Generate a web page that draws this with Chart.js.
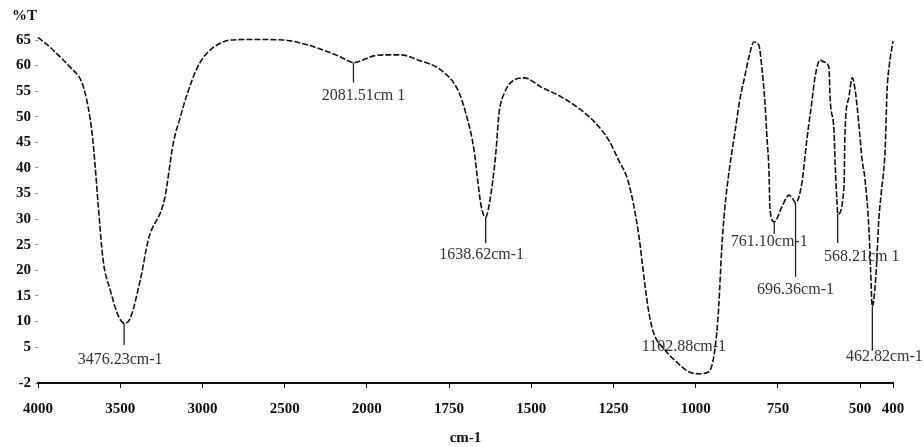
<!DOCTYPE html>
<html>
<head>
<meta charset="utf-8">
<script src="https://cdn.jsdelivr.net/npm/chart.js@4/dist/chart.umd.min.js"></script>
<style>
  html, body { margin: 0; padding: 0; background: #ffffff; }
  #wrap { width: 924px; height: 447px; position: relative; }
</style>
</head>
<body>
<div id="wrap"><canvas id="c" width="924" height="447"></canvas></div>
<script>
// ---- data ----
const wavenumbers = [4000,3927,3866,3805,3732,3695,3671,3652,3634,3604,3561,3510,3476,3451,3378,3329,3230,3177,3134,3091,3030,2970,2890,2829,2700,2506,2402,2262,2159,2082,1979,1948,1896,1845,1774,1723,1699,1674,1662,1652,1639,1631,1613,1607,1598,1582,1552,1521,1470,1409,1348,1308,1265,1235,1204,1174,1155,1143,1128,1094,1058,1021,990,960,945,936,930,921,912,896,881,866,851,838,823,808,799,790,784,777,774,761,738,723,716,705,696,677,662,646,637,622,610,595,591,579,576,570,568,549,546,534,524,515,503,494,485,473,468,463,452,443,436,424,418,412,400];
const transmittance = [65.5,63.6,61.7,59.7,56.6,51.9,46.8,40.2,32.8,22.0,16.2,11.0,9.7,10.0,18.1,26.0,34.0,44.9,50.0,54.6,59.7,62.5,64.4,65.0,65.1,65.0,64.4,63.0,61.7,60.6,61.9,62.1,62.1,61.1,59.1,55.2,50.7,43.5,37.1,32.4,30.4,31.8,39.6,43.5,50.7,54.6,57.2,57.6,55.8,53.9,51.3,49.0,45.5,41.6,37.1,27.3,17.5,12.0,7.8,4.5,2.1,0.2,-0.2,0.2,3.1,7.8,12.9,24.0,31.8,40.5,46.8,53.3,57.8,61.7,64.6,64.0,59.7,53.3,46.8,39.0,31.8,29.5,32.4,34.3,34.7,34.0,33.2,37.1,45.5,53.3,57.8,61.1,60.7,59.7,53.3,46.8,41.0,33.0,31.0,36.3,46.8,53.9,57.6,55.2,48.0,41.6,37.7,27.9,20.0,12.9,19.0,30.0,35.0,43.5,55.2,59.7,64.8];
const xTickLabels = [4000,3500,3000,2500,2000,1750,1500,1250,1000,750,500,400];
const yTickLabels = [-2,5,10,15,20,25,30,35,40,45,50,55,60,65];
const peakLabels = ["3476.23cm-1","2081.51cm 1","1638.62cm-1","1102.88cm-1","761.10cm-1","696.36cm-1","568.21cm 1","462.82cm-1"];
const peakWaves = [3476.23,2081.51,1638.62,1102.88,761.10,696.36,568.21,462.82];
const peakValues = [9.7,60.6,30.4,4.4,29.5,33.2,31.0,12.9];

// split scale: 500 cm-1 per unit above 2000, 250 cm-1 per unit below
function toU(v){ return v >= 2000 ? (4000 - v) / 500 : 4 + (2000 - v) / 250; }
function fromU(u){ return u <= 4 ? 4000 - u * 500 : 2000 - (u - 4) * 250; }

// label layout (pixel offsets from the peak point): dx, marker length, text dy
const peakLayout = [
  {dx:-4, len:22, ty:37},
  {dx:10, len:20, ty:33},
  {dx:-4, len:26, ty:38},
  {dx:22, len:0,  ty:-3},
  {dx:-5, len:12, ty:20},
  {dx:0,  len:74, ty:87},
  {dx:24, len:29, ty:43},
  {dx:12, len:44, ty:50}
];

const points = wavenumbers.map((w, i) => ({x: toU(w), y: transmittance[i]}));

const annotate = {
  id: 'annotate',
  afterDatasetsDraw(chart) {
    const {ctx, scales: {x, y}} = chart;
    ctx.save();
    ctx.strokeStyle = '#222';
    ctx.lineWidth = 1.3;
    ctx.fillStyle = '#333';
    ctx.font = '16px "Liberation Serif", serif';
    ctx.textAlign = 'center';
    ctx.textBaseline = 'middle';
    peakWaves.forEach((w, i) => {
      const px = x.getPixelForValue(toU(w));
      const py = y.getPixelForValue(peakValues[i]);
      const L = peakLayout[i];
      if (L.len > 0) {
        ctx.beginPath();
        ctx.moveTo(px, py);
        ctx.lineTo(px, py + L.len);
        ctx.stroke();
      }
      ctx.fillText(peakLabels[i], px + L.dx, py + L.ty);
    });
    // y axis unit
    ctx.fillStyle = '#111';
    ctx.font = 'bold 15px "Liberation Serif", serif';
    ctx.textAlign = 'left';
    ctx.fillText('%T', 12, 16);
    ctx.restore();
  }
};

new Chart(document.getElementById('c'), {
  type: 'line',
  data: {
    datasets: [{
      data: points,
      borderColor: '#111',
      borderWidth: 1.6,
      borderDash: [6, 2],
      pointRadius: 0,
      fill: false,
      cubicInterpolationMode: 'monotone',
      clip: false
    }]
  },
  options: {
    responsive: false,
    animation: false,
    layout: { padding: { left: 0, top: 40, right: 31, bottom: 0 } },
    plugins: { legend: { display: false }, tooltip: { enabled: false } },
    scales: {
      x: {
        type: 'linear',
        min: 0,
        max: toU(400),
        afterBuildTicks(scale) { scale.ticks = xTickLabels.map(v => ({value: toU(v)})); },
        afterFit(scale) { scale.height = 64; },
        ticks: {
          autoSkip: false,
          maxRotation: 0,
          padding: 12,
          color: '#111',
          font: { family: '"Liberation Serif", serif', size: 15, weight: 'bold' },
          callback: (val) => String(Math.round(fromU(val)))
        },
        grid: { display: true, drawOnChartArea: false, tickLength: 5, color: '#111', lineWidth: 1 },
        border: { display: true, color: '#111', width: 2 },
        title: {
          display: true, text: 'cm-1', color: '#111',
          font: { family: '"Liberation Serif", serif', size: 15, weight: 'bold' },
          padding: { top: 2, bottom: 0 }
        }
      },
      y: {
        type: 'linear',
        min: -2,
        max: 65,
        afterBuildTicks(scale) { scale.ticks = yTickLabels.map(v => ({value: v})); },
        afterFit(scale) { scale.width = 38; },
        ticks: {
          autoSkip: false,
          padding: 4,
          color: '#111',
          font: { family: '"Liberation Serif", serif', size: 15, weight: 'bold' }
        },
        grid: { display: true, drawOnChartArea: false, tickLength: 3, color: '#999', lineWidth: 1 },
        border: { display: false }
      }
    }
  },
  plugins: [annotate]
});
</script>
</body>
</html>
